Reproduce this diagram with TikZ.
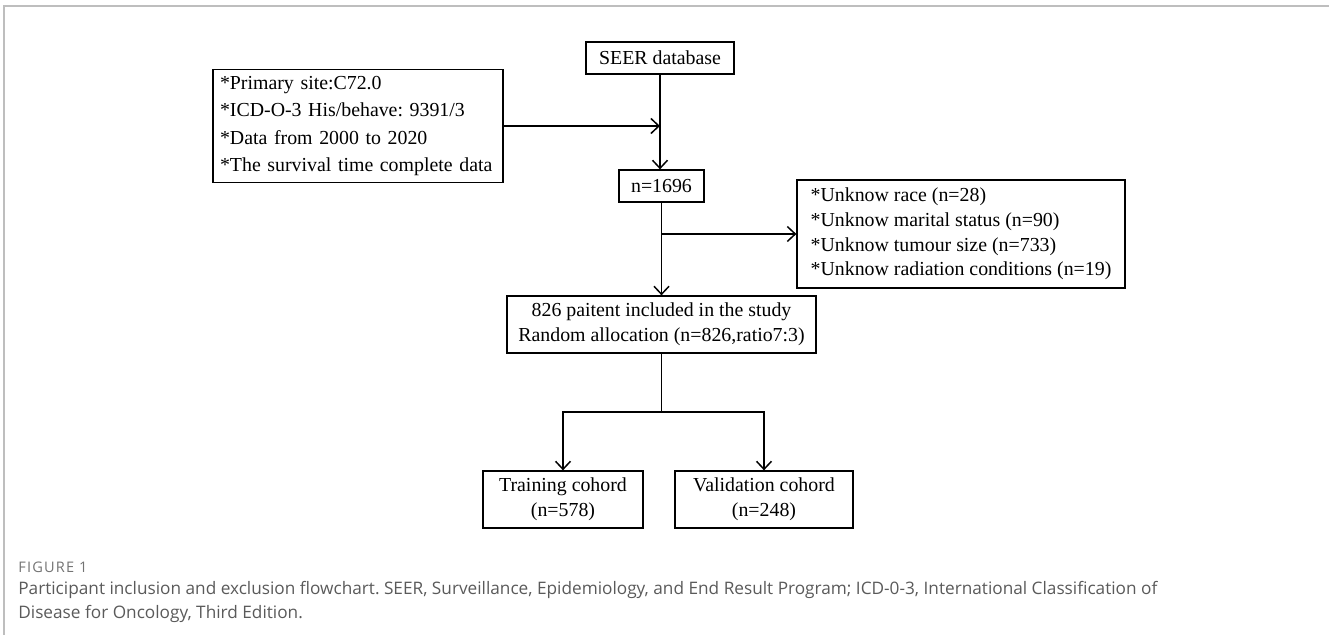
\documentclass[tikz,border=0pt]{standalone}
\usepackage{fontspec}
\setmainfont{Liberation Serif}
\newfontfamily\capfont{Open Sans}
\newfontfamily\caplabelfont{Open Sans}[LetterSpace=8]
\usetikzlibrary{arrows.meta}
\definecolor{FrameGray}{RGB}{190,190,190}
\definecolor{CapGray}{RGB}{90,90,90}
\frenchspacing
\tikzset{
  flowbox/.style={draw, line width=0.75pt, inner sep=0pt, align=center,
    font=\fontsize{11.3}{14}\selectfont},
  flowline/.style={line width=0.85pt},
  flowarrow/.style={flowline, -{Straight Barb[length=1.6mm,width=3mm]}}
}

\begin{document}
\begin{tikzpicture}[x=0.02cm,y=-0.02cm]
  \useasboundingbox (0,0) rectangle (1329,635);
  % frame of the figure panel
  \draw[FrameGray, line width=1.2pt] (4,635) -- (4,6) -- (1329,6);

  % boxes
  \node[flowbox, minimum width=2.96cm, minimum height=0.64cm] (seer) at (660,58) {SEER database};
  \node[flowbox, minimum width=5.8cm, minimum height=2.26cm, text width=5.52cm, align=left,
    font=\fontsize{11.3}{15.7}\selectfont] (crit) at (358,126) {*Primary site:C72.0\\{*}ICD-O-3 His/behave: 9391/3\\{*}Data from 2000 to 2020\\{*}The survival time complete data};
  \node[flowbox, minimum width=1.7cm, minimum height=0.64cm] (total) at (661.5,186) {n=1696};
  \node[flowbox, minimum width=6.56cm, minimum height=2.16cm, align=left] (excl) at (961,234) {*Unknow race (n=28)\\*Unknow marital status (n=90)\\*Unknow tumour size (n=733)\\*Unknow radiation conditions (n=19)};
  \node[flowbox, minimum width=6.18cm, minimum height=1.14cm] (incl) at (661.5,324.5) {826 paitent included in the study\\Random allocation (n=826,ratio7:3)};
  \node[flowbox, minimum width=3.2cm, minimum height=1.14cm] (train) at (563,499.5) {Training cohord\\(n=578)};
  \node[flowbox, minimum width=3.56cm, minimum height=1.14cm] (valid) at (764,499.5) {Validation cohord\\(n=248)};

  % connectors
  \draw[flowarrow] (seer.south) -- (seer.south |- total.north);
  \draw[flowarrow] (crit.east) -- (crit.east -| seer.south);
  \draw[flowarrow] (total.south) -- (total.south |- incl.north);
  \draw[flowarrow] (total.south |- excl.west) -- (excl.west);
  \coordinate (fork) at (661.5,412);
  \draw[flowline] (incl.south) -- (fork);
  \draw[flowarrow] (fork) -| (train.north);
  \draw[flowarrow] (fork) -| (valid.north);

  % caption
  \node[anchor=west, inner sep=0pt, text=CapGray!85, font=\caplabelfont\fontsize{8.3}{9}\selectfont] (figlabel) at (18,567) {FIGURE 1};
  \node[anchor=north west, inner sep=0pt, align=left, text=CapGray,
    font=\capfont\fontsize{9.8}{13.6}\selectfont] (caption) at (18,581) {Participant inclusion and exclusion flowchart. SEER, Surveillance, Epidemiology, and End Result Program; ICD-0-3, International Classification of\\Disease for Oncology, Third Edition.};
\end{tikzpicture}
\end{document}
